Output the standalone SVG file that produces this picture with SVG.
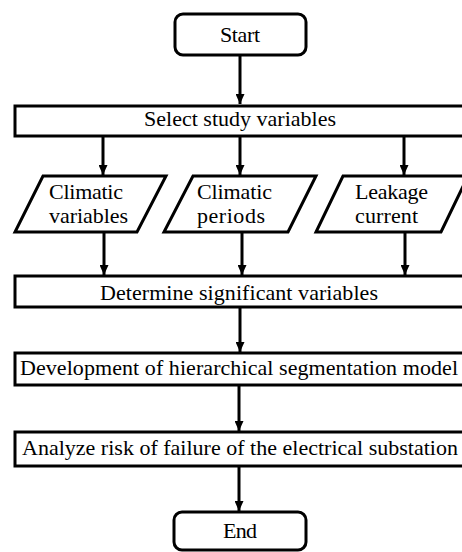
<svg xmlns="http://www.w3.org/2000/svg" width="462" height="552" viewBox="0 0 462 552">
<style>
.box{fill:#fff;stroke:#000;stroke-width:3;stroke-linejoin:miter}
.term{fill:#fff;stroke:#000;stroke-width:3}
.lbl{font-family:"Liberation Serif","Times New Roman",serif;font-size:22px;fill:#000}
.c{text-anchor:middle}
.conn line{stroke:#000;stroke-width:3}
</style>
<defs>
<marker id="ah" viewBox="0 0 10 10" refX="10" refY="5" markerWidth="10" markerHeight="9" markerUnits="userSpaceOnUse" orient="auto" preserveAspectRatio="none">
<path d="M0,0 L10,5 L0,10 z" fill="#000"/>
</marker>
</defs>
<g class="conn">
<line x1="240" y1="55" x2="240" y2="104" marker-end="url(#ah)"/>
<line x1="103" y1="136" x2="103" y2="175" marker-end="url(#ah)"/>
<line x1="240" y1="136" x2="240" y2="175" marker-end="url(#ah)"/>
<line x1="404" y1="136" x2="404" y2="175" marker-end="url(#ah)"/>
<line x1="104" y1="232" x2="104" y2="275" marker-end="url(#ah)"/>
<line x1="242" y1="232" x2="242" y2="275" marker-end="url(#ah)"/>
<line x1="405" y1="232" x2="405" y2="275" marker-end="url(#ah)"/>
<line x1="240" y1="307" x2="240" y2="352" marker-end="url(#ah)"/>
<line x1="239" y1="385" x2="239" y2="431" marker-end="url(#ah)"/>
<line x1="239" y1="466" x2="239" y2="511" marker-end="url(#ah)"/>
</g>
<g id="start">
<rect class="term" x="175" y="14" width="131" height="41" rx="8"/>
<text class="lbl c" x="240" y="42" textLength="40">Start</text>
</g>
<g id="select">
<rect class="box" x="15" y="106" width="470" height="30"/>
<text class="lbl c" x="240" y="126" textLength="192">Select study variables</text>
</g>
<g id="climatic-variables">
<polygon class="box" points="43,176 166,176 137,232 15,232"/>
<text class="lbl" x="49" y="199" textLength="74">Climatic</text>
<text class="lbl" x="49" y="223" textLength="79">variables</text>
</g>
<g id="climatic-periods">
<polygon class="box" points="193,176 316,176 288,232 164,232"/>
<text class="lbl" x="197" y="199" textLength="75">Climatic</text>
<text class="lbl" x="197" y="223" textLength="68">periods</text>
</g>
<g id="leakage-current">
<polygon class="box" points="343,176 468,176 441,232 316,232"/>
<text class="lbl" x="355" y="199" textLength="73">Leakage</text>
<text class="lbl" x="355" y="223" textLength="63">current</text>
</g>
<g id="determine">
<rect class="box" x="15" y="276" width="470" height="31"/>
<text class="lbl c" x="239" y="300" textLength="278">Determine significant variables</text>
</g>
<g id="development">
<rect class="box" x="15" y="353" width="470" height="32"/>
<text class="lbl c" x="239" y="375" textLength="438">Development of hierarchical segmentation model</text>
</g>
<g id="analyze">
<rect class="box" x="15" y="432" width="470" height="34"/>
<text class="lbl c" x="240" y="455" textLength="436">Analyze risk of failure of the electrical substation</text>
</g>
<g id="end">
<rect class="term" x="174" y="512" width="132" height="38" rx="8"/>
<text class="lbl c" x="240" y="538" textLength="34">End</text>
</g>
</svg>
